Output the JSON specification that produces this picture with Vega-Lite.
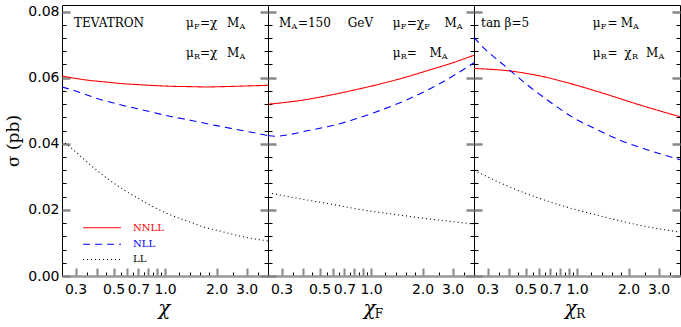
{
  "$schema": "https://vega.github.io/schema/vega-lite/v6.json",
  "background": "white",
  "padding": {"left": 4, "top": 4, "right": 2, "bottom": 2},
  "spacing": 0,
  "bounds": "flush",
  "config": {
    "view": {"stroke": "black", "strokeWidth": 1},
    "font": "DejaVu Sans"
  },
  "datasets": {
    "curves": [
      {"panel": "a", "series": "NNLL", "x": 0.25, "y": 0.0605},
      {"panel": "a", "series": "NNLL", "x": 0.30, "y": 0.0598},
      {"panel": "a", "series": "NNLL", "x": 0.361, "y": 0.0592},
      {"panel": "a", "series": "NNLL", "x": 0.45, "y": 0.0587},
      {"panel": "a", "series": "NNLL", "x": 0.566, "y": 0.0582},
      {"panel": "a", "series": "NNLL", "x": 0.70, "y": 0.0579},
      {"panel": "a", "series": "NNLL", "x": 0.887, "y": 0.0576},
      {"panel": "a", "series": "NNLL", "x": 1.1, "y": 0.0574},
      {"panel": "a", "series": "NNLL", "x": 1.39, "y": 0.0573},
      {"panel": "a", "series": "NNLL", "x": 1.75, "y": 0.0572},
      {"panel": "a", "series": "NNLL", "x": 2.17, "y": 0.0573},
      {"panel": "a", "series": "NNLL", "x": 3.0, "y": 0.0575},
      {"panel": "a", "series": "NNLL", "x": 4.0, "y": 0.0577},
      {"panel": "a", "series": "NLL", "x": 0.25, "y": 0.0572},
      {"panel": "a", "series": "NLL", "x": 0.30, "y": 0.0560},
      {"panel": "a", "series": "NLL", "x": 0.413, "y": 0.0535},
      {"panel": "a", "series": "NLL", "x": 0.55, "y": 0.0518},
      {"panel": "a", "series": "NLL", "x": 0.775, "y": 0.0500},
      {"panel": "a", "series": "NLL", "x": 1.05, "y": 0.0484},
      {"panel": "a", "series": "NLL", "x": 1.45, "y": 0.0470},
      {"panel": "a", "series": "NLL", "x": 2.0, "y": 0.0455},
      {"panel": "a", "series": "NLL", "x": 2.72, "y": 0.0442},
      {"panel": "a", "series": "NLL", "x": 4.0, "y": 0.0425},
      {"panel": "a", "series": "LL", "x": 0.25, "y": 0.0410},
      {"panel": "a", "series": "LL", "x": 0.302, "y": 0.0375},
      {"panel": "a", "series": "LL", "x": 0.361, "y": 0.0339},
      {"panel": "a", "series": "LL", "x": 0.452, "y": 0.0298},
      {"panel": "a", "series": "LL", "x": 0.566, "y": 0.0263},
      {"panel": "a", "series": "LL", "x": 0.708, "y": 0.0233},
      {"panel": "a", "series": "LL", "x": 0.887, "y": 0.0205},
      {"panel": "a", "series": "LL", "x": 1.11, "y": 0.0182},
      {"panel": "a", "series": "LL", "x": 1.39, "y": 0.0164},
      {"panel": "a", "series": "LL", "x": 1.74, "y": 0.0146},
      {"panel": "a", "series": "LL", "x": 2.17, "y": 0.0134},
      {"panel": "a", "series": "LL", "x": 2.72, "y": 0.0121},
      {"panel": "a", "series": "LL", "x": 4.0, "y": 0.0106},
      {"panel": "b", "series": "NNLL", "x": 0.25, "y": 0.0520},
      {"panel": "b", "series": "NNLL", "x": 0.374, "y": 0.0530},
      {"panel": "b", "series": "NNLL", "x": 0.587, "y": 0.0548},
      {"panel": "b", "series": "NNLL", "x": 0.92, "y": 0.0570},
      {"panel": "b", "series": "NNLL", "x": 1.44, "y": 0.0595},
      {"panel": "b", "series": "NNLL", "x": 2.25, "y": 0.0625},
      {"panel": "b", "series": "NNLL", "x": 3.0, "y": 0.0645},
      {"panel": "b", "series": "NNLL", "x": 4.0, "y": 0.0668},
      {"panel": "b", "series": "NLL", "x": 0.25, "y": 0.0425},
      {"panel": "b", "series": "NLL", "x": 0.274, "y": 0.0423},
      {"panel": "b", "series": "NLL", "x": 0.43, "y": 0.0440},
      {"panel": "b", "series": "NLL", "x": 0.67, "y": 0.0462},
      {"panel": "b", "series": "NLL", "x": 1.05, "y": 0.0495},
      {"panel": "b", "series": "NLL", "x": 1.65, "y": 0.0535},
      {"panel": "b", "series": "NLL", "x": 2.58, "y": 0.0585},
      {"panel": "b", "series": "NLL", "x": 4.0, "y": 0.0645},
      {"panel": "b", "series": "LL", "x": 0.25, "y": 0.0252},
      {"panel": "b", "series": "LL", "x": 0.374, "y": 0.0235},
      {"panel": "b", "series": "LL", "x": 0.587, "y": 0.0217},
      {"panel": "b", "series": "LL", "x": 0.92, "y": 0.0199},
      {"panel": "b", "series": "LL", "x": 1.44, "y": 0.0185},
      {"panel": "b", "series": "LL", "x": 2.25, "y": 0.0172},
      {"panel": "b", "series": "LL", "x": 4.0, "y": 0.0157},
      {"panel": "c", "series": "NNLL", "x": 0.25, "y": 0.0628},
      {"panel": "c", "series": "NNLL", "x": 0.41, "y": 0.0620},
      {"panel": "c", "series": "NNLL", "x": 0.587, "y": 0.0607},
      {"panel": "c", "series": "NNLL", "x": 0.92, "y": 0.0582},
      {"panel": "c", "series": "NNLL", "x": 1.44, "y": 0.0552},
      {"panel": "c", "series": "NNLL", "x": 2.25, "y": 0.0520},
      {"panel": "c", "series": "NNLL", "x": 4.0, "y": 0.0482},
      {"panel": "c", "series": "NLL", "x": 0.25, "y": 0.0722},
      {"panel": "c", "series": "NLL", "x": 0.273, "y": 0.0700},
      {"panel": "c", "series": "NLL", "x": 0.374, "y": 0.0638},
      {"panel": "c", "series": "NLL", "x": 0.513, "y": 0.0578},
      {"panel": "c", "series": "NLL", "x": 0.703, "y": 0.0525},
      {"panel": "c", "series": "NLL", "x": 0.96, "y": 0.0478},
      {"panel": "c", "series": "NLL", "x": 1.32, "y": 0.0442},
      {"panel": "c", "series": "NLL", "x": 1.8, "y": 0.0410},
      {"panel": "c", "series": "NLL", "x": 2.47, "y": 0.0385},
      {"panel": "c", "series": "NLL", "x": 4.0, "y": 0.0352},
      {"panel": "c", "series": "LL", "x": 0.25, "y": 0.0320},
      {"panel": "c", "series": "LL", "x": 0.374, "y": 0.0277},
      {"panel": "c", "series": "LL", "x": 0.587, "y": 0.0237},
      {"panel": "c", "series": "LL", "x": 0.92, "y": 0.0205},
      {"panel": "c", "series": "LL", "x": 1.44, "y": 0.0179},
      {"panel": "c", "series": "LL", "x": 2.25, "y": 0.0155},
      {"panel": "c", "series": "LL", "x": 4.0, "y": 0.0133}
    ],
    "notes": [
      {"panel": "a", "kind": "main", "text": "TEVATRON", "x": 0.294, "y": 0.0765},
      {"panel": "a", "kind": "main", "text": "μ", "x": 1.328, "y": 0.0765},
      {"panel": "a", "kind": "main", "text": "=χ", "x": 1.603, "y": 0.0765},
      {"panel": "a", "kind": "main", "text": "M", "x": 2.305, "y": 0.0765},
      {"panel": "a", "kind": "main", "text": "μ", "x": 1.328, "y": 0.0676},
      {"panel": "a", "kind": "main", "text": "=χ", "x": 1.603, "y": 0.0676},
      {"panel": "a", "kind": "main", "text": "M", "x": 2.305, "y": 0.0676},
      {"panel": "a", "kind": "sub", "text": "F", "x": 1.478, "y": 0.0752},
      {"panel": "a", "kind": "sub", "text": "A", "x": 2.73, "y": 0.0752},
      {"panel": "a", "kind": "sub", "text": "R", "x": 1.478, "y": 0.0664},
      {"panel": "a", "kind": "sub", "text": "A", "x": 2.73, "y": 0.0664},
      {"panel": "a", "kind": "title", "text": "χ", "x": 0.99, "y": -0.0118},
      {"panel": "b", "kind": "main", "text": "M", "x": 0.290, "y": 0.0765},
      {"panel": "b", "kind": "main", "text": "=150", "x": 0.374, "y": 0.0765},
      {"panel": "b", "kind": "main", "text": "GeV", "x": 0.731, "y": 0.0765},
      {"panel": "b", "kind": "main", "text": "μ", "x": 1.34, "y": 0.0765},
      {"panel": "b", "kind": "main", "text": "=χ", "x": 1.617, "y": 0.0765},
      {"panel": "b", "kind": "main", "text": "M", "x": 2.685, "y": 0.0765},
      {"panel": "b", "kind": "main", "text": "μ", "x": 1.34, "y": 0.0676},
      {"panel": "b", "kind": "main", "text": "=", "x": 1.617, "y": 0.0676},
      {"panel": "b", "kind": "main", "text": "M", "x": 2.2, "y": 0.0676},
      {"panel": "b", "kind": "sub", "text": "A", "x": 0.343, "y": 0.0752},
      {"panel": "b", "kind": "sub", "text": "F", "x": 1.492, "y": 0.0752},
      {"panel": "b", "kind": "sub", "text": "F", "x": 2.049, "y": 0.0752},
      {"panel": "b", "kind": "sub", "text": "A", "x": 3.17, "y": 0.0752},
      {"panel": "b", "kind": "sub", "text": "R", "x": 1.492, "y": 0.0664},
      {"panel": "b", "kind": "sub", "text": "A", "x": 2.59, "y": 0.0664},
      {"panel": "b", "kind": "title", "text": "χ", "x": 0.98, "y": -0.0118},
      {"panel": "b", "kind": "tsub", "text": "F", "x": 1.05, "y": -0.0128},
      {"panel": "c", "kind": "main", "text": "tan β=5", "x": 0.275, "y": 0.0765},
      {"panel": "c", "kind": "main", "text": "μ", "x": 1.236, "y": 0.0765},
      {"panel": "c", "kind": "main", "text": "=", "x": 1.51, "y": 0.0765},
      {"panel": "c", "kind": "main", "text": "M", "x": 1.80, "y": 0.0765},
      {"panel": "c", "kind": "main", "text": "μ", "x": 1.236, "y": 0.0676},
      {"panel": "c", "kind": "main", "text": "=", "x": 1.51, "y": 0.0676},
      {"panel": "c", "kind": "main", "text": "χ", "x": 1.89, "y": 0.0676},
      {"panel": "c", "kind": "main", "text": "M", "x": 2.53, "y": 0.0676},
      {"panel": "c", "kind": "sub", "text": "F", "x": 1.375, "y": 0.0752},
      {"panel": "c", "kind": "sub", "text": "A", "x": 2.125, "y": 0.0752},
      {"panel": "c", "kind": "sub", "text": "R", "x": 1.375, "y": 0.0664},
      {"panel": "c", "kind": "sub", "text": "R", "x": 2.095, "y": 0.0664},
      {"panel": "c", "kind": "sub", "text": "A", "x": 2.99, "y": 0.0664},
      {"panel": "c", "kind": "title", "text": "χ", "x": 0.92, "y": -0.0118},
      {"panel": "c", "kind": "tsub", "text": "R", "x": 0.99, "y": -0.0128}
    ],
    "legend": [
      {"series": "NNLL", "x": 0.332, "y": 0.0146, "label": ""},
      {"series": "NNLL", "x": 0.553, "y": 0.0146, "label": ""},
      {"series": "NNLL", "x": 0.65, "y": 0.0146, "label": "NNLL"},
      {"series": "NLL", "x": 0.332, "y": 0.0096, "label": ""},
      {"series": "NLL", "x": 0.553, "y": 0.0096, "label": ""},
      {"series": "NLL", "x": 0.65, "y": 0.0096, "label": "NLL"},
      {"series": "LL", "x": 0.332, "y": 0.005, "label": ""},
      {"series": "LL", "x": 0.553, "y": 0.005, "label": ""},
      {"series": "LL", "x": 0.65, "y": 0.005, "label": "LL"}
    ]
  },
  "hconcat": [
    {
      "width": 206, "height": 271,
      "resolve": {"axis": {"y": "independent"}},
      "layer": [
        {
          "data": {"name": "curves"},
          "transform": [{"filter": "datum.panel === 'a'"}],
          "mark": {"type": "line", "interpolate": "monotone", "strokeWidth": 1.1},
          "encoding": {
            "x": {"field": "x", "type": "quantitative",
              "scale": {"type": "log", "domain": [0.25, 4], "nice": false},
              "axis": {"orient": "bottom", "title": null, "grid": false,
                "values": [0.25, 0.3, 0.35, 0.4, 0.45, 0.5, 0.55, 0.6, 0.65, 0.7, 0.75, 0.8, 0.85, 0.9, 0.95, 1, 1.2, 1.4, 1.6, 1.8, 2, 2.5, 3, 3.5],
                "labelExpr": "indexof([0.3,0.5,0.7,1,2,3], datum.value) >= 0 ? format(datum.value, '.1f') : ''",
                "labelFont": "DejaVu Sans", "labelFontSize": 14, "labelColor": "black", "labelPadding": 14,
                "labelOverlap": false, "labelFlush": false, "labelBound": false,
                "tickSize": {"condition": {"test": "indexof([0.3,0.4,0.5,0.6,0.7,0.8,0.9,1,2,3], datum.value) >= 0", "value": -8}, "value": -4},
                "tickColor": {"condition": {"test": "indexof([0.3,0.4,0.5,0.6,0.7,0.8,0.9,1,2,3], datum.value) >= 0", "value": "#888888"}, "value": "#000000"},
                "tickWidth": {"condition": {"test": "indexof([0.3,0.4,0.5,0.6,0.7,0.8,0.9,1,2,3], datum.value) >= 0", "value": 2}, "value": 1},
                "domainColor": "#999999", "domainWidth": 2.5}},
            "y": {"field": "y", "type": "quantitative",
              "scale": {"domain": [0, 0.082], "nice": false, "zero": false},
              "axis": {"orient": "left", "grid": false, "domain": false,
                "values": [0, 0.004, 0.008, 0.012, 0.016, 0.02, 0.024, 0.028, 0.032, 0.036, 0.04, 0.044, 0.048, 0.052, 0.056, 0.06, 0.064, 0.068, 0.072, 0.076, 0.08],
                "title": "σ (pb)", "titleFont": "DejaVu Serif", "titleFontSize": 17, "titleFontWeight": "normal", "titleColor": "black", "titlePadding": 5,
                "labelExpr": "indexof([0,0.02,0.04,0.06,0.08], datum.value) >= 0 ? format(datum.value, '.2f') : ''",
                "labelFont": "DejaVu Sans", "labelFontSize": 14, "labelColor": "black", "labelPadding": 11,
                "labelOverlap": false, "labelFlush": false, "labelBound": false,
                "tickSize": {"condition": {"test": "indexof([0,0.02,0.04,0.06,0.08], datum.value) >= 0", "value": -8}, "value": -4},
                "tickColor": {"condition": {"test": "indexof([0,0.02,0.04,0.06,0.08], datum.value) >= 0", "value": "#888888"}, "value": "#000000"},
                "tickWidth": {"condition": {"test": "indexof([0,0.02,0.04,0.06,0.08], datum.value) >= 0", "value": 2.5}, "value": 1}}},
            "color": {"field": "series", "type": "nominal", "scale": {"domain": ["NNLL", "NLL", "LL"], "range": ["#ff0000", "#0000ff", "#000000"]}, "legend": null},
            "strokeDash": {"field": "series", "type": "nominal", "scale": {"domain": ["NNLL", "NLL", "LL"], "range": [[1, 0], [7, 5], [1, 3]]}, "legend": null}
          }
        },
        {
          "data": {"name": "notes"},
          "transform": [{"filter": "datum.panel === 'a' && datum.kind === 'main'"}],
          "mark": {"type": "text", "font": "DejaVu Serif", "fontSize": 12, "align": "left", "baseline": "middle", "color": "black"},
          "encoding": {
            "x": {"field": "x", "type": "quantitative"},
            "y": {"field": "y", "type": "quantitative",
              "axis": {"orient": "right", "grid": false, "domain": false, "labels": false, "title": null,
                "values": [0, 0.004, 0.008, 0.012, 0.016, 0.02, 0.024, 0.028, 0.032, 0.036, 0.04, 0.044, 0.048, 0.052, 0.056, 0.06, 0.064, 0.068, 0.072, 0.076, 0.08],
                "tickSize": {"condition": {"test": "indexof([0,0.02,0.04,0.06,0.08], datum.value) >= 0", "value": -8}, "value": -4},
                "tickColor": {"condition": {"test": "indexof([0,0.02,0.04,0.06,0.08], datum.value) >= 0", "value": "#888888"}, "value": "#000000"},
                "tickWidth": {"condition": {"test": "indexof([0,0.02,0.04,0.06,0.08], datum.value) >= 0", "value": 2.5}, "value": 1}}},
            "text": {"field": "text"}
          }
        },
        {
          "data": {"name": "notes"},
          "transform": [{"filter": "datum.panel === 'a' && datum.kind === 'sub'"}],
          "mark": {"type": "text", "font": "DejaVu Serif", "fontSize": 8, "align": "left", "baseline": "middle", "color": "black"},
          "encoding": {
            "x": {"field": "x", "type": "quantitative"},
            "y": {"field": "y", "type": "quantitative", "axis": null},
            "text": {"field": "text"}
          }
        },
        {
          "data": {"name": "notes"},
          "transform": [{"filter": "datum.panel === 'a' && datum.kind === 'title'"}],
          "mark": {"type": "text", "font": "DejaVu Serif", "fontSize": 20, "fontStyle": "italic", "align": "center", "baseline": "alphabetic", "color": "black"},
          "encoding": {
            "x": {"field": "x", "type": "quantitative"},
            "y": {"field": "y", "type": "quantitative", "axis": null},
            "text": {"field": "text"}
          }
        },
        {
          "data": {"name": "legend"},
          "transform": [{"filter": "datum.label === ''"}],
          "mark": {"type": "line", "strokeWidth": 1.1},
          "encoding": {
            "x": {"field": "x", "type": "quantitative"},
            "y": {"field": "y", "type": "quantitative", "axis": null},
            "color": {"field": "series", "type": "nominal", "legend": null},
            "strokeDash": {"field": "series", "type": "nominal", "legend": null}
          }
        },
        {
          "data": {"name": "legend"},
          "transform": [{"filter": "datum.label !== ''"}],
          "mark": {"type": "text", "font": "DejaVu Serif", "fontSize": 10, "align": "left", "baseline": "middle"},
          "encoding": {
            "x": {"field": "x", "type": "quantitative"},
            "y": {"field": "y", "type": "quantitative", "axis": null},
            "color": {"field": "series", "type": "nominal", "legend": null},
            "text": {"field": "label"}
          }
        }
      ]
    },
    {
      "width": 206, "height": 271,
      "resolve": {"axis": {"y": "independent"}},
      "layer": [
        {
          "data": {"name": "curves"},
          "transform": [{"filter": "datum.panel === 'b'"}],
          "mark": {"type": "line", "interpolate": "monotone", "strokeWidth": 1.1},
          "encoding": {
            "x": {"field": "x", "type": "quantitative",
              "scale": {"type": "log", "domain": [0.25, 4], "nice": false},
              "axis": {"orient": "bottom", "title": null, "grid": false,
                "values": [0.25, 0.3, 0.35, 0.4, 0.45, 0.5, 0.55, 0.6, 0.65, 0.7, 0.75, 0.8, 0.85, 0.9, 0.95, 1, 1.2, 1.4, 1.6, 1.8, 2, 2.5, 3, 3.5],
                "labelExpr": "indexof([0.3,0.5,0.7,1,2,3], datum.value) >= 0 ? format(datum.value, '.1f') : ''",
                "labelFont": "DejaVu Sans", "labelFontSize": 14, "labelColor": "black", "labelPadding": 14,
                "labelOverlap": false, "labelFlush": false, "labelBound": false,
                "tickSize": {"condition": {"test": "indexof([0.3,0.4,0.5,0.6,0.7,0.8,0.9,1,2,3], datum.value) >= 0", "value": -8}, "value": -4},
                "tickColor": {"condition": {"test": "indexof([0.3,0.4,0.5,0.6,0.7,0.8,0.9,1,2,3], datum.value) >= 0", "value": "#888888"}, "value": "#000000"},
                "tickWidth": {"condition": {"test": "indexof([0.3,0.4,0.5,0.6,0.7,0.8,0.9,1,2,3], datum.value) >= 0", "value": 2}, "value": 1},
                "domainColor": "#999999", "domainWidth": 2.5}},
            "y": {"field": "y", "type": "quantitative",
              "scale": {"domain": [0, 0.082], "nice": false, "zero": false},
              "axis": {"orient": "left", "grid": false, "domain": false, "labels": false, "title": null,
                "values": [0, 0.004, 0.008, 0.012, 0.016, 0.02, 0.024, 0.028, 0.032, 0.036, 0.04, 0.044, 0.048, 0.052, 0.056, 0.06, 0.064, 0.068, 0.072, 0.076, 0.08],
                "tickSize": {"condition": {"test": "indexof([0,0.02,0.04,0.06,0.08], datum.value) >= 0", "value": -8}, "value": -4},
                "tickColor": {"condition": {"test": "indexof([0,0.02,0.04,0.06,0.08], datum.value) >= 0", "value": "#888888"}, "value": "#000000"},
                "tickWidth": {"condition": {"test": "indexof([0,0.02,0.04,0.06,0.08], datum.value) >= 0", "value": 2.5}, "value": 1}}},
            "color": {"field": "series", "type": "nominal", "scale": {"domain": ["NNLL", "NLL", "LL"], "range": ["#ff0000", "#0000ff", "#000000"]}, "legend": null},
            "strokeDash": {"field": "series", "type": "nominal", "scale": {"domain": ["NNLL", "NLL", "LL"], "range": [[1, 0], [7, 5], [1, 3]]}, "legend": null}
          }
        },
        {
          "data": {"name": "notes"},
          "transform": [{"filter": "datum.panel === 'b' && datum.kind === 'main'"}],
          "mark": {"type": "text", "font": "DejaVu Serif", "fontSize": 12, "align": "left", "baseline": "middle", "color": "black"},
          "encoding": {
            "x": {"field": "x", "type": "quantitative"},
            "y": {"field": "y", "type": "quantitative",
              "axis": {"orient": "right", "grid": false, "domain": false, "labels": false, "title": null,
                "values": [0, 0.004, 0.008, 0.012, 0.016, 0.02, 0.024, 0.028, 0.032, 0.036, 0.04, 0.044, 0.048, 0.052, 0.056, 0.06, 0.064, 0.068, 0.072, 0.076, 0.08],
                "tickSize": {"condition": {"test": "indexof([0,0.02,0.04,0.06,0.08], datum.value) >= 0", "value": -8}, "value": -4},
                "tickColor": {"condition": {"test": "indexof([0,0.02,0.04,0.06,0.08], datum.value) >= 0", "value": "#888888"}, "value": "#000000"},
                "tickWidth": {"condition": {"test": "indexof([0,0.02,0.04,0.06,0.08], datum.value) >= 0", "value": 2.5}, "value": 1}}},
            "text": {"field": "text"}
          }
        },
        {
          "data": {"name": "notes"},
          "transform": [{"filter": "datum.panel === 'b' && datum.kind === 'sub'"}],
          "mark": {"type": "text", "font": "DejaVu Serif", "fontSize": 8, "align": "left", "baseline": "middle", "color": "black"},
          "encoding": {
            "x": {"field": "x", "type": "quantitative"},
            "y": {"field": "y", "type": "quantitative", "axis": null},
            "text": {"field": "text"}
          }
        },
        {
          "data": {"name": "notes"},
          "transform": [{"filter": "datum.panel === 'b' && datum.kind === 'title'"}],
          "mark": {"type": "text", "font": "DejaVu Serif", "fontSize": 20, "fontStyle": "italic", "align": "center", "baseline": "alphabetic", "color": "black"},
          "encoding": {
            "x": {"field": "x", "type": "quantitative"},
            "y": {"field": "y", "type": "quantitative", "axis": null},
            "text": {"field": "text"}
          }
        },
        {
          "data": {"name": "notes"},
          "transform": [{"filter": "datum.panel === 'b' && datum.kind === 'tsub'"}],
          "mark": {"type": "text", "font": "DejaVu Serif", "fontSize": 12, "align": "left", "baseline": "alphabetic", "color": "black"},
          "encoding": {
            "x": {"field": "x", "type": "quantitative"},
            "y": {"field": "y", "type": "quantitative", "axis": null},
            "text": {"field": "text"}
          }
        }
      ]
    },
    {
      "width": 206, "height": 271,
      "resolve": {"axis": {"y": "independent"}},
      "layer": [
        {
          "data": {"name": "curves"},
          "transform": [{"filter": "datum.panel === 'c'"}],
          "mark": {"type": "line", "interpolate": "monotone", "strokeWidth": 1.1},
          "encoding": {
            "x": {"field": "x", "type": "quantitative",
              "scale": {"type": "log", "domain": [0.25, 4], "nice": false},
              "axis": {"orient": "bottom", "title": null, "grid": false,
                "values": [0.25, 0.3, 0.35, 0.4, 0.45, 0.5, 0.55, 0.6, 0.65, 0.7, 0.75, 0.8, 0.85, 0.9, 0.95, 1, 1.2, 1.4, 1.6, 1.8, 2, 2.5, 3, 3.5],
                "labelExpr": "indexof([0.3,0.5,0.7,1,2,3], datum.value) >= 0 ? format(datum.value, '.1f') : ''",
                "labelFont": "DejaVu Sans", "labelFontSize": 14, "labelColor": "black", "labelPadding": 14,
                "labelOverlap": false, "labelFlush": false, "labelBound": false,
                "tickSize": {"condition": {"test": "indexof([0.3,0.4,0.5,0.6,0.7,0.8,0.9,1,2,3], datum.value) >= 0", "value": -8}, "value": -4},
                "tickColor": {"condition": {"test": "indexof([0.3,0.4,0.5,0.6,0.7,0.8,0.9,1,2,3], datum.value) >= 0", "value": "#888888"}, "value": "#000000"},
                "tickWidth": {"condition": {"test": "indexof([0.3,0.4,0.5,0.6,0.7,0.8,0.9,1,2,3], datum.value) >= 0", "value": 2}, "value": 1},
                "domainColor": "#999999", "domainWidth": 2.5}},
            "y": {"field": "y", "type": "quantitative",
              "scale": {"domain": [0, 0.082], "nice": false, "zero": false},
              "axis": {"orient": "left", "grid": false, "domain": false, "labels": false, "title": null,
                "values": [0, 0.004, 0.008, 0.012, 0.016, 0.02, 0.024, 0.028, 0.032, 0.036, 0.04, 0.044, 0.048, 0.052, 0.056, 0.06, 0.064, 0.068, 0.072, 0.076, 0.08],
                "tickSize": {"condition": {"test": "indexof([0,0.02,0.04,0.06,0.08], datum.value) >= 0", "value": -8}, "value": -4},
                "tickColor": {"condition": {"test": "indexof([0,0.02,0.04,0.06,0.08], datum.value) >= 0", "value": "#888888"}, "value": "#000000"},
                "tickWidth": {"condition": {"test": "indexof([0,0.02,0.04,0.06,0.08], datum.value) >= 0", "value": 2.5}, "value": 1}}},
            "color": {"field": "series", "type": "nominal", "scale": {"domain": ["NNLL", "NLL", "LL"], "range": ["#ff0000", "#0000ff", "#000000"]}, "legend": null},
            "strokeDash": {"field": "series", "type": "nominal", "scale": {"domain": ["NNLL", "NLL", "LL"], "range": [[1, 0], [7, 5], [1, 3]]}, "legend": null}
          }
        },
        {
          "data": {"name": "notes"},
          "transform": [{"filter": "datum.panel === 'c' && datum.kind === 'main'"}],
          "mark": {"type": "text", "font": "DejaVu Serif", "fontSize": 12, "align": "left", "baseline": "middle", "color": "black"},
          "encoding": {
            "x": {"field": "x", "type": "quantitative"},
            "y": {"field": "y", "type": "quantitative",
              "axis": {"orient": "right", "grid": false, "domain": false, "labels": false, "title": null,
                "values": [0, 0.004, 0.008, 0.012, 0.016, 0.02, 0.024, 0.028, 0.032, 0.036, 0.04, 0.044, 0.048, 0.052, 0.056, 0.06, 0.064, 0.068, 0.072, 0.076, 0.08],
                "tickSize": {"condition": {"test": "indexof([0,0.02,0.04,0.06,0.08], datum.value) >= 0", "value": -8}, "value": -4},
                "tickColor": {"condition": {"test": "indexof([0,0.02,0.04,0.06,0.08], datum.value) >= 0", "value": "#888888"}, "value": "#000000"},
                "tickWidth": {"condition": {"test": "indexof([0,0.02,0.04,0.06,0.08], datum.value) >= 0", "value": 2.5}, "value": 1}}},
            "text": {"field": "text"}
          }
        },
        {
          "data": {"name": "notes"},
          "transform": [{"filter": "datum.panel === 'c' && datum.kind === 'sub'"}],
          "mark": {"type": "text", "font": "DejaVu Serif", "fontSize": 8, "align": "left", "baseline": "middle", "color": "black"},
          "encoding": {
            "x": {"field": "x", "type": "quantitative"},
            "y": {"field": "y", "type": "quantitative", "axis": null},
            "text": {"field": "text"}
          }
        },
        {
          "data": {"name": "notes"},
          "transform": [{"filter": "datum.panel === 'c' && datum.kind === 'title'"}],
          "mark": {"type": "text", "font": "DejaVu Serif", "fontSize": 20, "fontStyle": "italic", "align": "center", "baseline": "alphabetic", "color": "black"},
          "encoding": {
            "x": {"field": "x", "type": "quantitative"},
            "y": {"field": "y", "type": "quantitative", "axis": null},
            "text": {"field": "text"}
          }
        },
        {
          "data": {"name": "notes"},
          "transform": [{"filter": "datum.panel === 'c' && datum.kind === 'tsub'"}],
          "mark": {"type": "text", "font": "DejaVu Serif", "fontSize": 12, "align": "left", "baseline": "alphabetic", "color": "black"},
          "encoding": {
            "x": {"field": "x", "type": "quantitative"},
            "y": {"field": "y", "type": "quantitative", "axis": null},
            "text": {"field": "text"}
          }
        }
      ]
    }
  ]
}
